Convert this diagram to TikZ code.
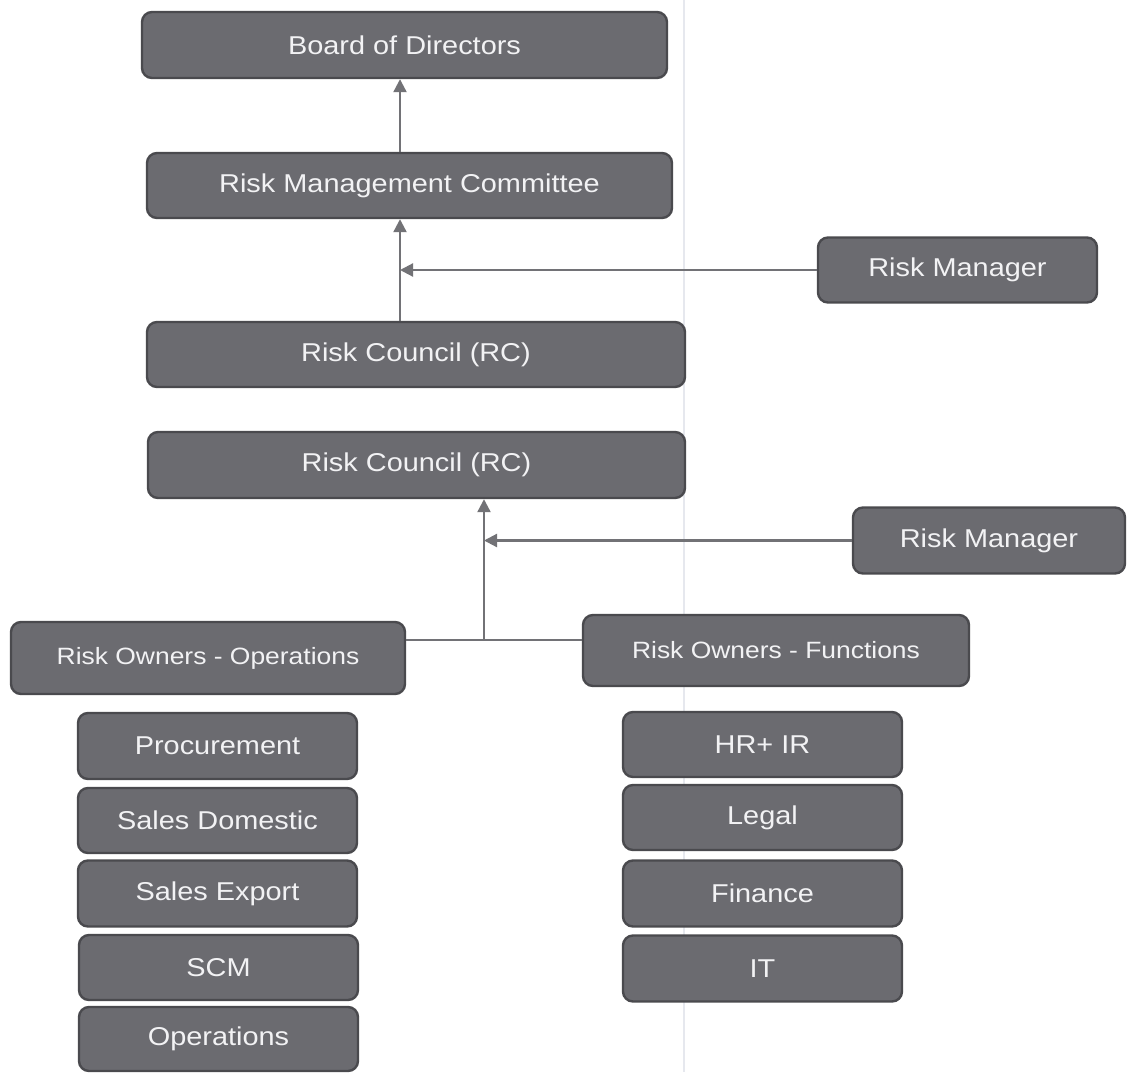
\documentclass[tikz,border=0pt]{standalone}
\usepackage{fontspec}
\setmainfont{Liberation Sans}[FakeStretch=1.12]
\usetikzlibrary{arrows.meta}
\definecolor{boxfill}{HTML}{6B6B70}
\definecolor{boxedge}{HTML}{4A4A4E}
\definecolor{linecol}{HTML}{727276}
\definecolor{txtcol}{HTML}{F2F2F4}
\definecolor{foldcol}{HTML}{E6E8EE}
\tikzset{
  box/.style={draw=boxedge, fill=boxfill, line width=2.4pt, rounded corners=10pt,
    text=txtcol, inner sep=0pt, align=center,
    font=\fontsize{25.8}{30}\selectfont},
  smallbox/.style={box, font=\fontsize{23.6}{28}\selectfont},
  conn/.style={draw=linecol, line width=2.2pt},
  arr/.style={conn, -{Triangle[length=13pt,width=13pt]}}
}
\begin{document}
\begin{tikzpicture}[x=1pt,y=-1pt]
\useasboundingbox[fill=white] (0,0) rectangle (1133,1072);
% faint fold line of the scanned page
\coordinate (foldtop) at (684,0);
\coordinate (foldbot) at (684,1072);
\draw[foldcol, line width=1.5pt] (foldtop) -- (foldbot);

\node[box, minimum width=525pt, minimum height=66pt] (bod) at (404.5,45) {Board of Directors};
\node[box, minimum width=525pt, minimum height=65pt] (rmc) at (409.5,185.5) {Risk Management Committee};
\node[box, minimum width=279pt, minimum height=65pt] (rm1) at (957.5,270) {Risk Manager};
\node[box, minimum width=538pt, minimum height=65pt] (rc1) at (416,354.5) {Risk Council (RC)};
\node[box, minimum width=537pt, minimum height=66pt] (rc2) at (416.5,465) {Risk Council (RC)};
\node[box, minimum width=272pt, minimum height=66pt] (rm2) at (989,540.5) {Risk Manager};
\node[smallbox, minimum width=394pt, minimum height=72pt] (roops) at (208,658) {Risk Owners - Operations};
\node[smallbox, minimum width=386pt, minimum height=71pt] (rofun) at (776,650.5) {Risk Owners - Functions};

\node[box, minimum width=279pt, minimum height=66pt] (proc) at (217.5,746) {Procurement};
\node[box, minimum width=279pt, minimum height=65pt] (sdom) at (217.5,820.5) {Sales Domestic};
\node[box, minimum width=279pt, minimum height=66pt] (sexp) at (217.5,893.5) {Sales Export};
\node[box, minimum width=279pt, minimum height=65pt] (scm) at (218.5,967.5) {SCM};
\node[box, minimum width=279pt, minimum height=64pt] (ops) at (218.5,1039) {Operations};

\node[box, minimum width=279pt, minimum height=65pt] (hr) at (762.5,744.5) {HR+ IR};
\node[box, minimum width=279pt, minimum height=65pt] (legal) at (762.5,817.5) {Legal};
\node[box, minimum width=279pt, minimum height=66pt] (fin) at (762.5,893.5) {Finance};
\node[box, minimum width=279pt, minimum height=66pt] (it) at (762.5,968.5) {IT};

% connectors
\coordinate (ax) at (400,0);
\coordinate (j) at (484,640);
\draw[arr] (ax |- rmc.north) -- (ax |- bod.south);
\draw[arr] (ax |- rc1.north) -- (ax |- rmc.south);
\draw[arr] (rm1.west) -- (ax |- rm1.west);
\draw[conn] (j -| roops.east) -- (j -| rofun.west);
\draw[arr] (j) -- (j |- rc2.south);
\draw[arr] (rm2.west) -- (j |- rm2.west);
\end{tikzpicture}
\end{document}
